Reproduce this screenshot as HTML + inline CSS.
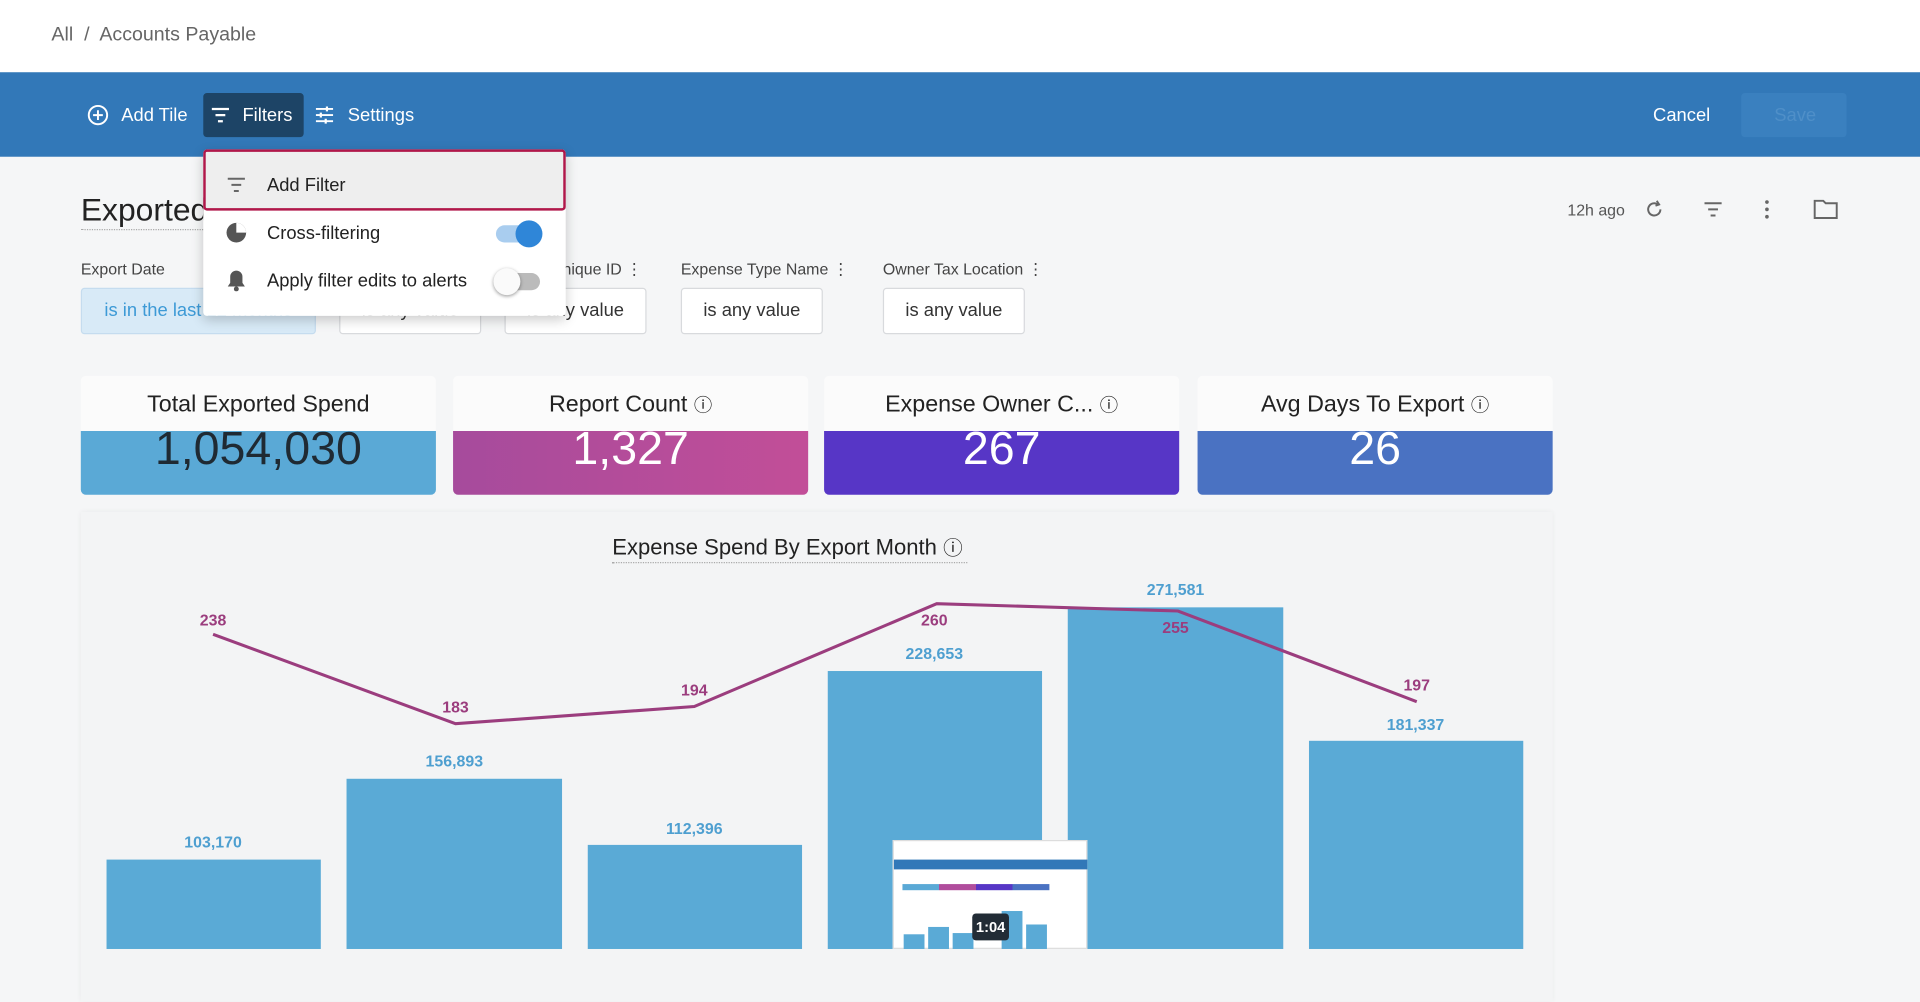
<!DOCTYPE html>
<html><head><meta charset="utf-8"><style>
html,body{margin:0;padding:0;width:1920px;height:949px;overflow:hidden;background:#f5f6f7;font-family:"Liberation Sans",sans-serif}
#w{position:absolute;left:0;top:0;width:1568px;height:775px;transform:scale(1.22449);transform-origin:0 0;background:#f5f6f7}
.a{position:absolute}
.t{position:absolute;white-space:nowrap}
.fb{position:absolute;top:235px;height:38px;background:#fff;border:1px solid #d8dadd;border-radius:3px;box-sizing:border-box;font-size:15px;color:#333;text-align:center;line-height:36px}
.fl{position:absolute;top:212px;font-size:13px;color:#444}
.kh{position:absolute;top:307px;height:45px;width:290px;background:#fbfbfb;font-size:19px;color:#222;text-align:center;line-height:48px;border-radius:4px 4px 0 0}
.kb{position:absolute;top:352px;height:52px;width:290px;font-size:38px;color:#fff;text-align:center;line-height:30px;border-radius:0 0 4px 4px;overflow:hidden}
.bar{position:absolute;background:#5aaad6;bottom:0}
.bl{position:absolute;font-size:13px;font-weight:bold;color:#4e9fd0;transform:translateX(-50%)}
.ll{position:absolute;font-size:13px;font-weight:bold;color:#9b3d7e;transform:translateX(-50%)}
.ic{display:inline-block;width:14px;height:14px;border:2px solid #fff;border-radius:50%;box-sizing:border-box}
</style></head><body><div id="w">
<div class="a" style="left:0;top:0;width:1568px;height:59px;background:#fff"></div>
<div class="t" style="left:42px;top:20px;font-size:16px;color:#666">All &nbsp;/&nbsp; Accounts Payable</div>
<div class="a" style="left:0;top:59px;width:1568px;height:69px;background:#3278b8"></div>
<svg class="a" style="left:71px;top:85px" width="18" height="18"><circle cx="9" cy="9" r="7.5" fill="none" stroke="#fff" stroke-width="1.6"/><path d="M9 5v8M5 9h8" stroke="#fff" stroke-width="1.6"/></svg>
<div class="t" style="left:99px;top:86px;font-size:15px;color:#fff">Add Tile</div>
<div class="a" style="left:166px;top:76px;width:82px;height:36px;background:#1d4466;border-radius:3px"></div>
<svg class="a" style="left:172px;top:87px" width="16" height="14"><path d="M1 2h14M4 7h8M6 12h4" stroke="#fff" stroke-width="1.8"/></svg>
<div class="t" style="left:198px;top:86px;font-size:15px;color:#fff">Filters</div>
<svg class="a" style="left:257px;top:86px" width="16" height="16"><path d="M1 3h14M1 8h14M1 13h14" stroke="#fff" stroke-width="1.5"/><path d="M10 1v4M5 6v4M9 11v4" stroke="#fff" stroke-width="1.8"/></svg>
<div class="t" style="left:284px;top:86px;font-size:15px;color:#fff">Settings</div>
<div class="t" style="left:1350px;top:86px;font-size:15px;color:#fff">Cancel</div>
<div class="a" style="left:1422px;top:76px;width:86px;height:36px;background:#3a80bf;border-radius:3px"></div>
<div class="t" style="left:1449px;top:86px;font-size:15px;color:#4f8fc8">Save</div>

<div class="t" style="left:66px;top:156px;font-size:26px;color:#222">Exported Spend</div>
<div class="a" style="left:66px;top:187px;width:230px;border-top:1px dotted #aaa"></div>
<div class="t" style="left:1280px;top:164px;font-size:13px;color:#555">12h ago</div>
<svg class="a" style="left:1343px;top:163px" width="16" height="16"><path d="M13 8a5 5 0 1 1-2-4" fill="none" stroke="#666" stroke-width="1.6"/><path d="M10 1l2 3-3 1" fill="none" stroke="#666" stroke-width="1.5"/></svg>
<svg class="a" style="left:1391px;top:164px" width="16" height="14"><path d="M1 2h14M4 7h8M6 12h4" stroke="#666" stroke-width="1.6"/></svg>
<svg class="a" style="left:1440px;top:163px" width="6" height="16"><circle cx="3" cy="2" r="1.5" fill="#666"/><circle cx="3" cy="8" r="1.5" fill="#666"/><circle cx="3" cy="14" r="1.5" fill="#666"/></svg>
<svg class="a" style="left:1481px;top:162px" width="20" height="18"><path d="M1 2h7l2 2h9v12H1z" fill="none" stroke="#666" stroke-width="1.6"/></svg>

<div class="fl" style="left:66px">Export Date</div>
<div class="fl" style="left:450px">Unique ID &#8942;</div>
<div class="fl" style="left:556px">Expense Type Name &#8942;</div>
<div class="fl" style="left:721px">Owner Tax Location &#8942;</div>
<div class="fb" style="left:66px;width:192px;background:#d8eaf7;border-color:#c5dcef;color:#3d9ad6">is in the last 12 months</div>
<div class="fb" style="left:277px;width:116px">is any value</div>
<div class="fb" style="left:412px;width:116px">is any value</div>
<div class="fb" style="left:556px;width:116px">is any value</div>
<div class="fb" style="left:721px;width:116px">is any value</div>

<div class="a" style="left:166px;top:122px;width:296px;height:136px;background:#fff;box-shadow:0 3px 10px rgba(0,0,0,.2);border-radius:3px"></div>
<div class="a" style="left:166px;top:122px;width:296px;height:50px;background:#eeeeee;border:2px solid #b0174a;box-sizing:border-box;border-radius:3px"></div>
<svg class="a" style="left:185px;top:144px" width="16" height="14"><path d="M1 2h14M4 7h8M6 12h4" stroke="#666" stroke-width="1.6"/></svg>
<div class="t" style="left:218px;top:143px;font-size:15px;color:#222">Add Filter</div>
<svg class="a" style="left:184px;top:181px" width="18" height="18"><circle cx="9" cy="9" r="8" fill="#555"/><path d="M9 9V1A8 8 0 0 1 17 9z" fill="#fff"/></svg>
<div class="t" style="left:218px;top:182px;font-size:15px;color:#222">Cross-filtering</div>
<div class="a" style="left:405px;top:184px;width:36px;height:14px;border-radius:7px;background:#a9cdef"></div>
<div class="a" style="left:421px;top:180px;width:22px;height:22px;border-radius:50%;background:#2f86d8"></div>
<svg class="a" style="left:185px;top:220px" width="16" height="18"><path d="M8 1a5 5 0 0 1 5 5v5l2 3H1l2-3V6a5 5 0 0 1 5-5z" fill="#555"/><circle cx="8" cy="16" r="2" fill="#555"/></svg>
<div class="t" style="left:218px;top:221px;font-size:15px;color:#222">Apply filter edits to alerts</div>
<div class="a" style="left:405px;top:223px;width:36px;height:14px;border-radius:7px;background:#bbb"></div>
<div class="a" style="left:403px;top:219px;width:22px;height:22px;border-radius:50%;background:#fafafa;box-shadow:0 1px 3px rgba(0,0,0,.4)"></div>

<div class="kh" style="left:66px">Total Exported Spend</div>
<div class="kh" style="left:370px">Report Count <span style="font-size:15px">&#9432;</span></div>
<div class="kh" style="left:673px">Expense Owner C... <span style="font-size:15px">&#9432;</span></div>
<div class="kh" style="left:978px">Avg Days To Export <span style="font-size:15px">&#9432;</span></div>
<div class="kb" style="left:66px;background:#5aa9d6;color:#1f2a33"><div style="margin-top:0">1,054,030</div></div>
<div class="kb" style="left:370px;background:linear-gradient(90deg,#a64b9c,#c24e98)">1,327</div>
<div class="kb" style="left:673px;background:#5736c6">267</div>
<div class="kb" style="left:978px;background:#4a72c2">26</div>

<div class="a" style="left:66px;top:418px;width:1202px;height:400px;background:#f3f4f5;box-shadow:0 0 4px rgba(0,0,0,.06)"></div>
<div class="t" style="left:500px;top:434px;font-size:18px;color:#222">Expense Spend By Export Month <span style="font-size:16px">&#9432;</span></div>
<div class="a" style="left:500px;top:459px;width:290px;border-top:1px dotted #aaa"></div>

<div class="bar" style="left:87px;width:175px;top:702px;height:73px"></div>
<div class="bar" style="left:283px;width:176px;top:636px;height:139px"></div>
<div class="bar" style="left:480px;width:175px;top:690px;height:85px"></div>
<div class="bar" style="left:676px;width:175px;top:548px;height:227px"></div>
<div class="bar" style="left:872px;width:176px;top:496px;height:279px"></div>
<div class="bar" style="left:1069px;width:175px;top:605px;height:170px"></div>
<div class="bl" style="left:174px;top:680px">103,170</div>
<div class="bl" style="left:371px;top:614px">156,893</div>
<div class="bl" style="left:567px;top:669px">112,396</div>
<div class="bl" style="left:763px;top:526px">228,653</div>
<div class="bl" style="left:960px;top:474px">271,581</div>
<div class="bl" style="left:1156px;top:584px">181,337</div>
<svg class="a" style="left:0;top:0" width="1568" height="775"><polyline points="174,518 372,591 567,577 765,493 962,499 1157,573" fill="none" stroke="#9b3d7e" stroke-width="2.5"/></svg>
<div class="ll" style="left:174px;top:499px">238</div>
<div class="ll" style="left:372px;top:570px">183</div>
<div class="ll" style="left:567px;top:556px">194</div>
<div class="ll" style="left:763px;top:499px">260</div>
<div class="ll" style="left:960px;top:505px">255</div>
<div class="ll" style="left:1157px;top:552px">197</div>

<div class="a" style="left:729px;top:686px;width:159px;height:89px;background:#fff;border:1px solid #ddd;box-sizing:border-box"></div>
<div class="a" style="left:730px;top:702px;width:158px;height:8px;background:#3278b8"></div>
<div class="a" style="left:737px;top:722px;width:120px;height:5px;background:linear-gradient(90deg,#5aa9d6 25%,#b04d9c 25% 50%,#5736c6 50% 75%,#4a72c2 75%)"></div>
<div class="a" style="left:738px;top:763px;width:17px;height:12px;background:#5aaad6"></div>
<div class="a" style="left:758px;top:757px;width:17px;height:18px;background:#5aaad6"></div>
<div class="a" style="left:778px;top:762px;width:17px;height:13px;background:#5aaad6"></div>
<div class="a" style="left:818px;top:744px;width:17px;height:31px;background:#5aaad6"></div>
<div class="a" style="left:838px;top:755px;width:17px;height:20px;background:#5aaad6"></div>
<div class="a" style="left:794px;top:746px;width:30px;height:22px;background:#222c36;border-radius:3px;color:#fff;font-size:12px;font-weight:bold;text-align:center;line-height:22px">1:04</div>
</div></body></html>
